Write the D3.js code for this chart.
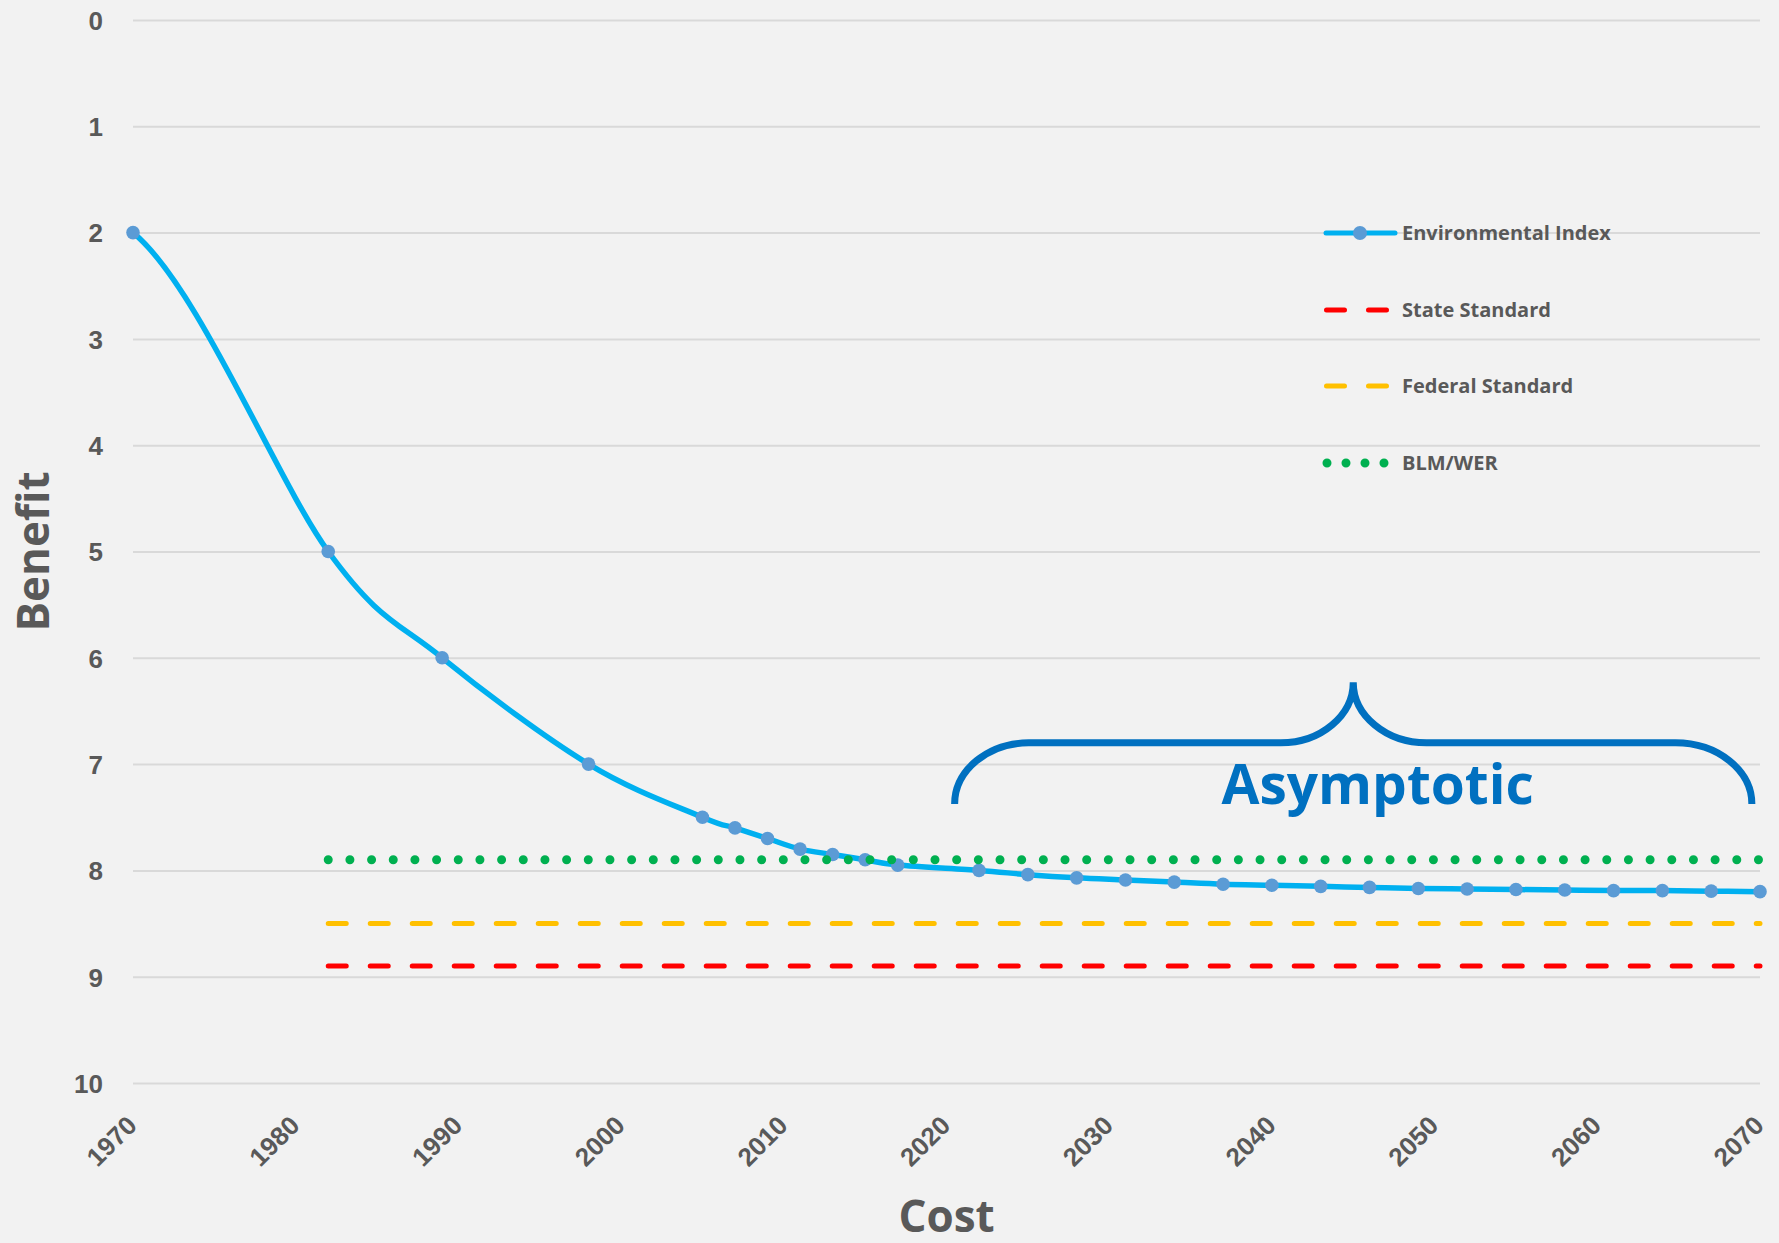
<!DOCTYPE html>
<html lang="en">
<head>
<meta charset="utf-8">
<title>Benefit vs Cost</title>
<script src="https://d3js.org/d3.v7.min.js"></script>
<style>
  html, body { margin: 0; padding: 0; background: #f2f2f2; }
  svg { display: block; font-family: "Open Sans", sans-serif; }
  .grid line { stroke: #d9d9d9; stroke-width: 2; }
  .grid path { display: none; }
  .tick text { fill: #595959; font-weight: bold; font-size: 26px; }
  .axis-title { fill: #595959; font-weight: bold; font-size: 44px; }
  .legend text { fill: #595959; font-weight: bold; font-size: 20px; }
</style>
</head>
<body>
<script>
// chart data
var years = [1970, 1982, 1989, 1998, 2005, 2007, 2009, 2011, 2013, 2015, 2017, 2022, 2025, 2028,
             2031, 2034, 2037, 2040, 2043, 2046, 2049, 2052, 2055, 2058, 2061, 2064, 2067, 2070];
var envIndex = [2, 5, 6, 7, 7.5, 7.6, 7.7, 7.8, 7.85, 7.9, 7.95, 8.0, 8.04, 8.07,
                8.09, 8.11, 8.13, 8.14, 8.15, 8.16, 8.17, 8.175, 8.18, 8.185, 8.19, 8.19, 8.195, 8.2];

var standardNames = ["State Standard", "Federal Standard", "BLM/WER"];
var standardValues = [8.9, 8.5, 7.9];
var standardRange = [1982, 2070];

var xTicks = [1970, 1980, 1990, 2000, 2010, 2020, 2030, 2040, 2050, 2060, 2070];
var yTicks = [0, 1, 2, 3, 4, 5, 6, 7, 8, 9, 10];

// annotation brace (years / benefit values)
var braceYears = [2020.5, 2025.05, 2040.55, 2045, 2049.5, 2064.8, 2069.5];
var braceLevels = [7.375, 6.8, 6.23];

var W = 1779, H = 1243;
var plotLeft = 133, plotRight = 1760, plotTop = 20, plotBottom = 1083;

var x = d3.scaleLinear().domain([1970, 2070]).range([plotLeft, plotRight]);
var y = d3.scaleLinear().domain([0, 10]).range([plotTop, plotBottom]);

var svg = d3.select("body").append("svg")
    .attr("width", W)
    .attr("height", H);

svg.append("rect").attr("width", W).attr("height", H).attr("fill", "#f2f2f2");

// y grid + labels
var yAxis = svg.append("g")
    .attr("class", "grid")
    .attr("transform", `translate(${plotLeft},0)`)
    .call(d3.axisLeft(y).tickValues(yTicks).tickSize(-(plotRight - plotLeft)).tickPadding(30));
yAxis.selectAll(".tick text").attr("dy", "0.36em");

// x labels
var xAxis = svg.append("g")
    .attr("class", "grid")
    .attr("transform", `translate(0,${plotBottom})`)
    .call(d3.axisBottom(x).tickValues(xTicks).tickSize(0).tickFormat(d3.format("d")));
xAxis.selectAll(".tick text")
    .attr("x", 0).attr("y", 0).attr("dy", 0)
    .attr("transform", "translate(5,44) rotate(-45)")
    .style("text-anchor", "end");

// axis titles
svg.append("text")
    .attr("class", "axis-title")
    .attr("transform", `translate(49,${(plotTop + plotBottom) / 2}) rotate(-90)`)
    .attr("text-anchor", "middle")
    .text("Benefit");

svg.append("text")
    .attr("class", "axis-title")
    .attr("x", (plotLeft + plotRight) / 2)
    .attr("y", 1232)
    .attr("text-anchor", "middle")
    .text("Cost");

// environmental index
var envData = years.map(function (d, i) { return { year: d, value: envIndex[i] }; });
// smoothed like the spreadsheet: flat phantom points at both ends steer the end tangents
var n = envData.length;
var envPath = [{ year: 2 * years[0] - years[1], value: envIndex[0] }]
    .concat(envData)
    .concat([{ year: 2 * years[n - 1] - years[n - 2], value: envIndex[n - 1] }]);

var line = d3.line()
    .x(d => x(d.year))
    .y(d => y(d.value))
    .curve(d3.curveCardinalOpen.tension(0));

svg.append("path")
    .datum(envPath)
    .attr("fill", "none")
    .attr("stroke", "#00b0f0")
    .attr("stroke-width", 5.5)
    .attr("d", line);

svg.append("g")
    .selectAll("circle")
    .data(envData).enter()
    .append("circle")
    .attr("cx", d => x(d.year))
    .attr("cy", d => y(d.value))
    .attr("r", 6.8)
    .attr("fill", "#5b9bd5");

// standards
var stdColors = ["#ff0000", "#ffc000", "#00b050"];
var stdDash = ["18 24", "18 24", "0 21.67"];
var stdWidth = [5, 5, 9];

standardValues.forEach(function (v, i) {
    svg.append("line")
        .attr("x1", x(standardRange[0]))
        .attr("x2", x(standardRange[1]))
        .attr("y1", y(v))
        .attr("y2", y(v))
        .attr("stroke", stdColors[i])
        .attr("stroke-width", stdWidth[i])
        .attr("stroke-linecap", "round")
        .attr("stroke-dasharray", stdDash[i]);
});

// brace
var bx = braceYears.map(x), by = braceLevels.map(y);
var k = 0.55;
var brace = d3.path();
brace.moveTo(bx[0], by[0]);
brace.bezierCurveTo(bx[0], by[0] - k * (by[0] - by[1]), bx[1] - k * (bx[1] - bx[0]), by[1], bx[1], by[1]);
brace.lineTo(bx[2], by[1]);
brace.bezierCurveTo(bx[2] + k * (bx[3] - bx[2]), by[1], bx[3], by[2] + k * (by[1] - by[2]), bx[3], by[2]);
brace.bezierCurveTo(bx[3], by[2] + k * (by[1] - by[2]), bx[4] - k * (bx[4] - bx[3]), by[1], bx[4], by[1]);
brace.lineTo(bx[5], by[1]);
brace.bezierCurveTo(bx[5] + k * (bx[6] - bx[5]), by[1], bx[6], by[0] - k * (by[0] - by[1]), bx[6], by[0]);

svg.append("path")
    .attr("d", brace.toString())
    .attr("fill", "none")
    .attr("stroke", "#0070c0")
    .attr("stroke-width", 7);

svg.append("text")
    .attr("x", x(2046.5))
    .attr("y", y(7.38))
    .attr("text-anchor", "middle")
    .attr("fill", "#0070c0")
    .attr("font-weight", "bold")
    .attr("font-size", 55)
    .text("Asymptotic");

// legend
var legendNames = ["Environmental Index"].concat(standardNames);
var legendY = [233, 310, 386, 463];
var legend = svg.append("g").attr("class", "legend");

legend.append("line")
    .attr("x1", 1326).attr("x2", 1395)
    .attr("y1", legendY[0]).attr("y2", legendY[0])
    .attr("stroke", "#00b0f0").attr("stroke-width", 5).attr("stroke-linecap", "round");
legend.append("circle")
    .attr("cx", 1360).attr("cy", legendY[0]).attr("r", 7).attr("fill", "#5b9bd5");

[0, 1, 2].forEach(function (i) {
    legend.append("line")
        .attr("x1", i == 2 ? 1327 : 1326.5)
        .attr("x2", 1390)
        .attr("y1", legendY[i + 1]).attr("y2", legendY[i + 1])
        .attr("stroke", stdColors[i])
        .attr("stroke-width", stdWidth[i])
        .attr("stroke-linecap", "round")
        .attr("stroke-dasharray", i == 2 ? "0 19" : "18 24");
});

legend.selectAll("text")
    .data(legendNames).enter()
    .append("text")
    .attr("x", 1402)
    .attr("y", (d, i) => legendY[i])
    .attr("dy", "0.36em")
    .text(d => d);
</script>
</body>
</html>
